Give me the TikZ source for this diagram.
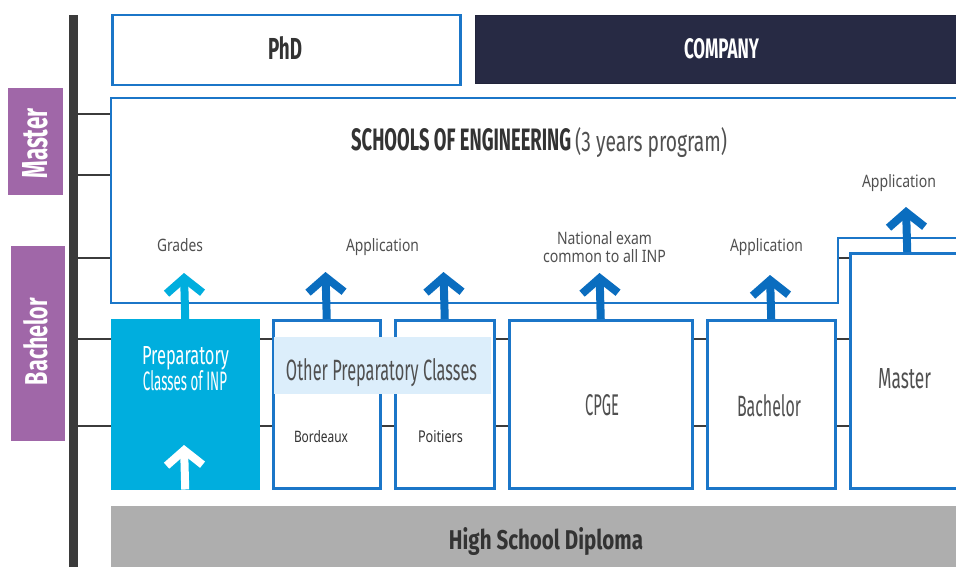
\documentclass[tikz,border=0pt]{standalone}
\usepackage{fontspec}
\usepackage{graphicx}
\setmainfont{Noto Sans}
\newfontfamily\disp{Fira Sans}
\usetikzlibrary{arrows.meta}
\newcommand\fitt[3]{\resizebox{#1pt}{#2pt}{#3}}
\definecolor{ublue}{HTML}{1B76C8}
\definecolor{ablue}{HTML}{0A6DBF}
\definecolor{pcyan}{HTML}{00AEDE}
\definecolor{purp}{HTML}{A067A8}
\definecolor{navy}{HTML}{272A44}
\definecolor{hsdgray}{HTML}{AEAEAE}
\definecolor{lband}{HTML}{DCEEFB}
\definecolor{bardark}{HTML}{3B3B3B}
\definecolor{labgray}{HTML}{505050}
\definecolor{txtdark}{HTML}{333333}
\begin{document}
\begin{tikzpicture}[x=1pt,y=-1pt,
  box/.style={draw=ublue, line width=2.5pt, fill=white, inner sep=0pt, anchor=north west},
  plain/.style={inner sep=0pt, anchor=north west},
  lbl/.style={inner sep=0pt, anchor=base},
  small/.style={inner sep=0pt, anchor=base, text=labgray},
  uparr/.style={draw=ablue, line width=8pt, -{Straight Barb[length=15pt, width=36pt, line width=8pt]}},
  tick/.style={draw=bardark, line width=2pt}]
\useasboundingbox (0,0) rectangle (956,567);
\clip (0,0) rectangle (956,567);
% grid ticks
\foreach \yy in {114,175,258,339,426} \draw[tick] (78,\yy) -- (960,\yy);
% vertical bar
\fill[bardark] (69,15) rectangle (78,570);
% level labels
\node[plain, fill=purp, minimum width=55pt, minimum height=107pt] (masterlab) at (8,88) {};
\node[lbl, rotate=90, text=white] (mastertxt) at (47,143.5) {\fitt{70}{25}{\disp\bfseries Master}};
\node[plain, fill=purp, minimum width=54pt, minimum height=195pt] (bachlab) at (11,246) {};
\node[lbl, rotate=90, text=white] (bachtxt) at (47,341.5) {\fitt{87}{24}{\disp\bfseries Bachelor}};
% top boxes
\node[box, minimum width=348pt, minimum height=70pt] (phd) at (111,14) {};
\node[lbl, text=txtdark] (phdtxt) at (285,60) {\fitt{34}{23}{\disp\bfseries PhD}};
\node[plain, fill=navy, draw=navy!85!black, line width=1pt, minimum width=500pt, minimum height=68pt] (company) at (475,15) {};
\node[lbl, text=white] (comptxt) at (721.5,59) {\fitt{75}{20}{\disp\bfseries COMPANY}};
% schools of engineering
\draw[draw=ublue, line width=2.5pt, fill=white] (111,98) -- (975,98) -- (975,238) -- (838,238) -- (838,303) -- (111,303) -- cycle;
\node[inner sep=0pt, anchor=base west, text=txtdark] (schools) at (351,151) {\fitt{220}{22}{\disp\bfseries SCHOOLS OF ENGINEERING}};
\node[inner sep=0pt, anchor=base west, text=labgray] (years) at (575,151) {\fitt{152}{24}{\disp (3 years program)}};
% master box
\node[box, minimum width=114pt, minimum height=235pt] (masterbox) at (849,252) {};
\node[lbl, text=labgray] (mastbtxt) at (904.5,388) {\fitt{53}{20}{\disp Master}};
% lower boxes
\node[box, fill=pcyan, draw=pcyan, minimum width=146pt, minimum height=168pt] (prep) at (111,319) {};
\node[box, minimum width=107pt, minimum height=168pt] (bordeaux) at (272,319) {};
\node[box, minimum width=99pt, minimum height=168pt] (poitiers) at (394,319) {};
\node[box, minimum width=183pt, minimum height=168pt] (cpge) at (508,319) {};
\node[box, minimum width=128pt, minimum height=168pt] (bachelor) at (706,319) {};
\node[plain, fill=lband, minimum width=217pt, minimum height=57pt] (band) at (274,337) {};
\node[lbl, text=labgray] (othertxt) at (381.5,380) {\fitt{191}{22}{\disp Other Preparatory Classes}};
\node[lbl, text=white] (preptxt1) at (185.5,364) {\fitt{87}{18}{\disp Preparatory}};
\node[lbl, text=white] (preptxt2) at (185,390) {\fitt{84}{20}{\disp Classes of INP}};
\node[lbl, text=txtdark] (bordtxt) at (321,442) {\fitt{54}{12}{Bordeaux}};
\node[lbl, text=txtdark] (poittxt) at (440.5,442) {\fitt{45}{12}{Poitiers}};
\node[lbl, text=labgray] (cpgetxt) at (602,415) {\fitt{34}{21}{\disp CPGE}};
\node[lbl, text=labgray] (bachtxtb) at (769,416) {\fitt{64}{22}{\disp Bachelor}};
% high school diploma
\node[plain, fill=hsdgray, minimum width=870pt, minimum height=70pt] (hsd) at (111,506) {};
\node[lbl, text=txtdark] (hsdtxt) at (546,549) {\fitt{194}{22}{\disp\bfseries High School Diploma}};
% arrow tips
\coordinate (tgrades) at (184,273);
\coordinate (tbord) at (325.5,272);
\coordinate (tpoit) at (443.5,272);
\coordinate (tcpge) at (599.5,273);
\coordinate (tbach) at (770,275);
\coordinate (tmast) at (906,207);
\coordinate (twhite) at (184,445);
\draw[uparr, draw=pcyan] (prep.north) -- (tgrades);
\draw[uparr] (bordeaux.north) -- (tbord);
\draw[uparr] (poitiers.north) -- (tpoit);
\draw[uparr] (cpge.north) -- (tcpge);
\draw[uparr] (bachelor.north) -- (tbach);
\draw[uparr] (masterbox.north) -- (tmast);
\draw[uparr, draw=white] (prep.south) -- (twhite);
% labels
\node[small] (grades) at (180,251) {\fitt{46}{13}{Grades}};
\node[small] (app1) at (382.5,251) {\fitt{73}{13}{Application}};
\node[small] (nat1) at (604.5,244) {\fitt{95}{13}{National exam}};
\node[small] (nat2) at (604.5,262) {\fitt{123}{13}{common to all INP}};
\node[small] (app2) at (766.5,251) {\fitt{73}{13}{Application}};
\node[small] (app3) at (899,188) {\fitt{74}{13}{Application}};
\end{tikzpicture}
\end{document}
